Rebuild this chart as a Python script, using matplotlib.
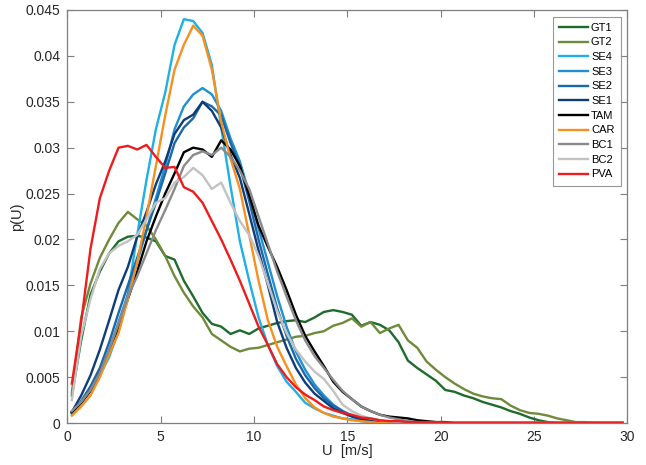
import numpy as np
import matplotlib
matplotlib.use("Agg")
import matplotlib.pyplot as plt

plt.rcParams['font.family'] = ['Liberation Sans', 'DejaVu Sans']

U = np.arange(0.25, 30.0, 0.5)

GT1 = [0.0030, 0.0090, 0.0140, 0.0165, 0.0185, 0.0198, 0.0203, 0.0204, 0.0202, 0.0198,
       0.0182, 0.0178, 0.0155, 0.0138, 0.0120, 0.0108, 0.0105, 0.0097, 0.0101, 0.0097,
       0.0103, 0.0106, 0.0109, 0.0111, 0.0112, 0.0110, 0.0115, 0.0121, 0.0123, 0.0121,
       0.0118, 0.0106, 0.0110, 0.0107, 0.0101, 0.0088, 0.0068, 0.0060, 0.0053, 0.0046,
       0.0036, 0.0034, 0.0030, 0.0027, 0.0023, 0.0020, 0.0017, 0.0013, 0.0010, 0.0006,
       0.0003, 0.0001, 0.0, 0.0, 0.0, 0.0, 0.0, 0.0, 0.0, 0.0]
GT2 = [0.0033, 0.0115, 0.0152, 0.0180, 0.0200, 0.0218, 0.0230, 0.0222, 0.0215, 0.0200,
       0.0182, 0.0160, 0.0142, 0.0127, 0.0115, 0.0097, 0.0090, 0.0083, 0.0078, 0.0081,
       0.0082, 0.0085, 0.0088, 0.0091, 0.0094, 0.0095, 0.0098, 0.0100, 0.0106, 0.0109,
       0.0114, 0.0105, 0.0110, 0.0098, 0.0103, 0.0107, 0.0090, 0.0082, 0.0067, 0.0058,
       0.0050, 0.0043, 0.0037, 0.0032, 0.0029, 0.0027, 0.0026, 0.0019, 0.0014, 0.0011,
       0.0010, 0.0008, 0.0005, 0.0003, 0.0001, 0.0001, 0.0, 0.0, 0.0, 0.0]
SE4 = [0.0012, 0.0022, 0.0035, 0.0052, 0.0072, 0.0100, 0.0140, 0.0205, 0.0265, 0.0320,
       0.0360, 0.0412, 0.0440, 0.0438, 0.0425, 0.0390, 0.0322, 0.0258, 0.0198, 0.0155,
       0.0115, 0.0085, 0.0062, 0.0045, 0.0034, 0.0022, 0.0016, 0.0011, 0.0008, 0.0005,
       0.0004, 0.0002, 0.0001, 0.0, 0.0, 0.0, 0.0, 0.0, 0.0, 0.0,
       0.0, 0.0, 0.0, 0.0, 0.0, 0.0, 0.0, 0.0, 0.0, 0.0,
       0.0, 0.0, 0.0, 0.0, 0.0, 0.0, 0.0, 0.0, 0.0, 0.0]
SE3 = [0.0010, 0.0022, 0.0036, 0.0055, 0.0080, 0.0110, 0.0140, 0.0175, 0.0210, 0.0245,
       0.0280, 0.0320, 0.0345, 0.0358, 0.0365, 0.0358, 0.0340, 0.0310, 0.0285, 0.0250,
       0.0212, 0.0175, 0.0138, 0.0105, 0.0078, 0.0058, 0.0042, 0.0030, 0.0020, 0.0013,
       0.0008, 0.0005, 0.0003, 0.0001, 0.0, 0.0, 0.0, 0.0, 0.0, 0.0,
       0.0, 0.0, 0.0, 0.0, 0.0, 0.0, 0.0, 0.0, 0.0, 0.0,
       0.0, 0.0, 0.0, 0.0, 0.0, 0.0, 0.0, 0.0, 0.0, 0.0]
SE2 = [0.0011, 0.0024, 0.0040, 0.0060, 0.0088, 0.0120, 0.0150, 0.0180, 0.0210, 0.0240,
       0.0272, 0.0305, 0.0322, 0.0332, 0.0350, 0.0345, 0.0335, 0.0305, 0.0280, 0.0242,
       0.0200, 0.0162, 0.0125, 0.0095, 0.0070, 0.0052, 0.0038, 0.0027, 0.0019, 0.0013,
       0.0008, 0.0005, 0.0003, 0.0001, 0.0, 0.0, 0.0, 0.0, 0.0, 0.0,
       0.0, 0.0, 0.0, 0.0, 0.0, 0.0, 0.0, 0.0, 0.0, 0.0,
       0.0, 0.0, 0.0, 0.0, 0.0, 0.0, 0.0, 0.0, 0.0, 0.0]
SE1 = [0.0012, 0.0030, 0.0052, 0.0080, 0.0112, 0.0145, 0.0170, 0.0203, 0.0230, 0.0260,
       0.0285, 0.0315, 0.0330, 0.0336, 0.0350, 0.0340, 0.0322, 0.0292, 0.0267, 0.0228,
       0.0188, 0.0150, 0.0110, 0.0082, 0.0060, 0.0044, 0.0032, 0.0024, 0.0016, 0.0011,
       0.0007, 0.0004, 0.0002, 0.0001, 0.0, 0.0, 0.0, 0.0, 0.0, 0.0,
       0.0, 0.0, 0.0, 0.0, 0.0, 0.0, 0.0, 0.0, 0.0, 0.0,
       0.0, 0.0, 0.0, 0.0, 0.0, 0.0, 0.0, 0.0, 0.0, 0.0]
TAM = [0.0012, 0.0022, 0.0035, 0.0055, 0.0078, 0.0105, 0.0135, 0.0165, 0.0198, 0.0225,
       0.0250, 0.0272, 0.0295, 0.0300, 0.0298, 0.0290, 0.0308, 0.0298, 0.0280, 0.0248,
       0.0215, 0.0192, 0.0170, 0.0145, 0.0118, 0.0095, 0.0078, 0.0062, 0.0045, 0.0034,
       0.0026, 0.0018, 0.0013, 0.0009, 0.0007, 0.0006, 0.0005, 0.0003, 0.0002, 0.0001,
       0.0001, 0.0, 0.0, 0.0, 0.0, 0.0, 0.0, 0.0, 0.0, 0.0,
       0.0, 0.0, 0.0, 0.0, 0.0, 0.0, 0.0, 0.0, 0.0, 0.0]
CAR = [0.0008, 0.0018, 0.0030, 0.0050, 0.0075, 0.0098, 0.0135, 0.0175, 0.0225, 0.0280,
       0.0335, 0.0385, 0.0412, 0.0433, 0.0422, 0.0385, 0.0328, 0.0288, 0.0255, 0.0205,
       0.0155, 0.0112, 0.0083, 0.0062, 0.0042, 0.0027, 0.0017, 0.0011, 0.0007, 0.0005,
       0.0003, 0.0002, 0.0001, 0.0, 0.0, 0.0, 0.0, 0.0, 0.0, 0.0,
       0.0, 0.0, 0.0, 0.0, 0.0, 0.0, 0.0, 0.0, 0.0, 0.0,
       0.0, 0.0, 0.0, 0.0, 0.0, 0.0, 0.0, 0.0, 0.0, 0.0]
BC1 = [0.0013, 0.0023, 0.0036, 0.0055, 0.0080, 0.0108, 0.0138, 0.0160, 0.0185, 0.0210,
       0.0232, 0.0255, 0.0280, 0.0292, 0.0296, 0.0292, 0.0300, 0.0290, 0.0275, 0.0255,
       0.0225, 0.0195, 0.0165, 0.0138, 0.0112, 0.0090, 0.0073, 0.0060, 0.0047, 0.0035,
       0.0026, 0.0018, 0.0013, 0.0009, 0.0006, 0.0004, 0.0002, 0.0001, 0.0, 0.0,
       0.0, 0.0, 0.0, 0.0, 0.0, 0.0, 0.0, 0.0, 0.0, 0.0,
       0.0, 0.0, 0.0, 0.0, 0.0, 0.0, 0.0, 0.0, 0.0, 0.0]
BC2 = [0.0025, 0.0095, 0.0135, 0.0168, 0.0185, 0.0193, 0.0198, 0.0205, 0.0222, 0.0240,
       0.0245, 0.0262, 0.0268, 0.0278, 0.0270, 0.0255, 0.0262, 0.0240, 0.0220, 0.0205,
       0.0182, 0.0152, 0.0122, 0.0098, 0.0080, 0.0067, 0.0056, 0.0048, 0.0035, 0.0020,
       0.0013, 0.0008, 0.0005, 0.0003, 0.0002, 0.0001, 0.0, 0.0, 0.0, 0.0,
       0.0, 0.0, 0.0, 0.0, 0.0, 0.0, 0.0, 0.0, 0.0, 0.0,
       0.0, 0.0, 0.0, 0.0, 0.0, 0.0, 0.0, 0.0, 0.0, 0.0]
PVA = [0.0043, 0.0110, 0.0190, 0.0245, 0.0275, 0.0300, 0.0302, 0.0298, 0.0303, 0.0290,
       0.0278, 0.0279, 0.0257, 0.0252, 0.0240, 0.0220, 0.0200, 0.0178, 0.0155, 0.0130,
       0.0105, 0.0085, 0.0064, 0.0050, 0.0039, 0.0031, 0.0025, 0.0018, 0.0014, 0.0011,
       0.0009, 0.0006, 0.0005, 0.0003, 0.0002, 0.0002, 0.0001, 0.0001, 0.0001, 0.0001,
       0.0, 0.0, 0.0, 0.0, 0.0, 0.0, 0.0, 0.0, 0.0, 0.0,
       0.0, 0.0, 0.0, 0.0, 0.0, 0.0, 0.0, 0.0, 0.0, 0.0]

names = ["GT1", "GT2", "SE4", "SE3", "SE2", "SE1", "TAM", "CAR", "BC1", "BC2", "PVA"]
series = [GT1, GT2, SE4, SE3, SE2, SE1, TAM, CAR, BC1, BC2, PVA]
colors = ["#1e6b2d", "#6f8a3a", "#1eb0e6", "#2190d2", "#1a68a8", "#0f3b79",
          "#000000", "#f7901e", "#8a8a8a", "#c2c2c2", "#ee1c1c"]

fig = plt.figure(figsize=(6.46, 4.65), dpi=100)
ax = fig.add_axes([0.104, 0.0903, 0.867, 0.8882])

for name, vals, c in zip(names, series, colors):
    ax.plot(U, vals, color=c, lw=1.7, label=name)

ax.set_xlim(0, 30)
ax.set_ylim(0, 0.045)
ax.set_xticks(np.arange(0, 31, 5))
ax.set_xticklabels([str(v) for v in range(0, 31, 5)])
yt = np.arange(0, 0.0451, 0.005)
ax.set_yticks(yt)
ax.set_yticklabels(["0", "0.005", "0.01", "0.015", "0.02", "0.025", "0.03",
                    "0.035", "0.04", "0.045"])

for s in ax.spines.values():
    s.set_color("#7f7f7f")
    s.set_linewidth(0.9)
ax.tick_params(direction="in", length=5, width=0.8, color="#7f7f7f",
               labelcolor="#262626", labelsize=10, top=True, right=True, pad=5)

ax.set_xlabel("U  [m/s]", fontsize=10.5, color="#262626", labelpad=0)
ax.set_ylabel("p(U)", fontsize=10.5, color="#262626", labelpad=1)

leg = ax.legend(loc="upper right", fontsize=8, frameon=True, fancybox=False,
                edgecolor="#7f7f7f", handlelength=2.6, handletextpad=0.3,
                labelspacing=0.42, borderpad=0.55, borderaxespad=0.6)
leg.get_frame().set_linewidth(0.8)

fig.savefig("out.png", dpi=100)
